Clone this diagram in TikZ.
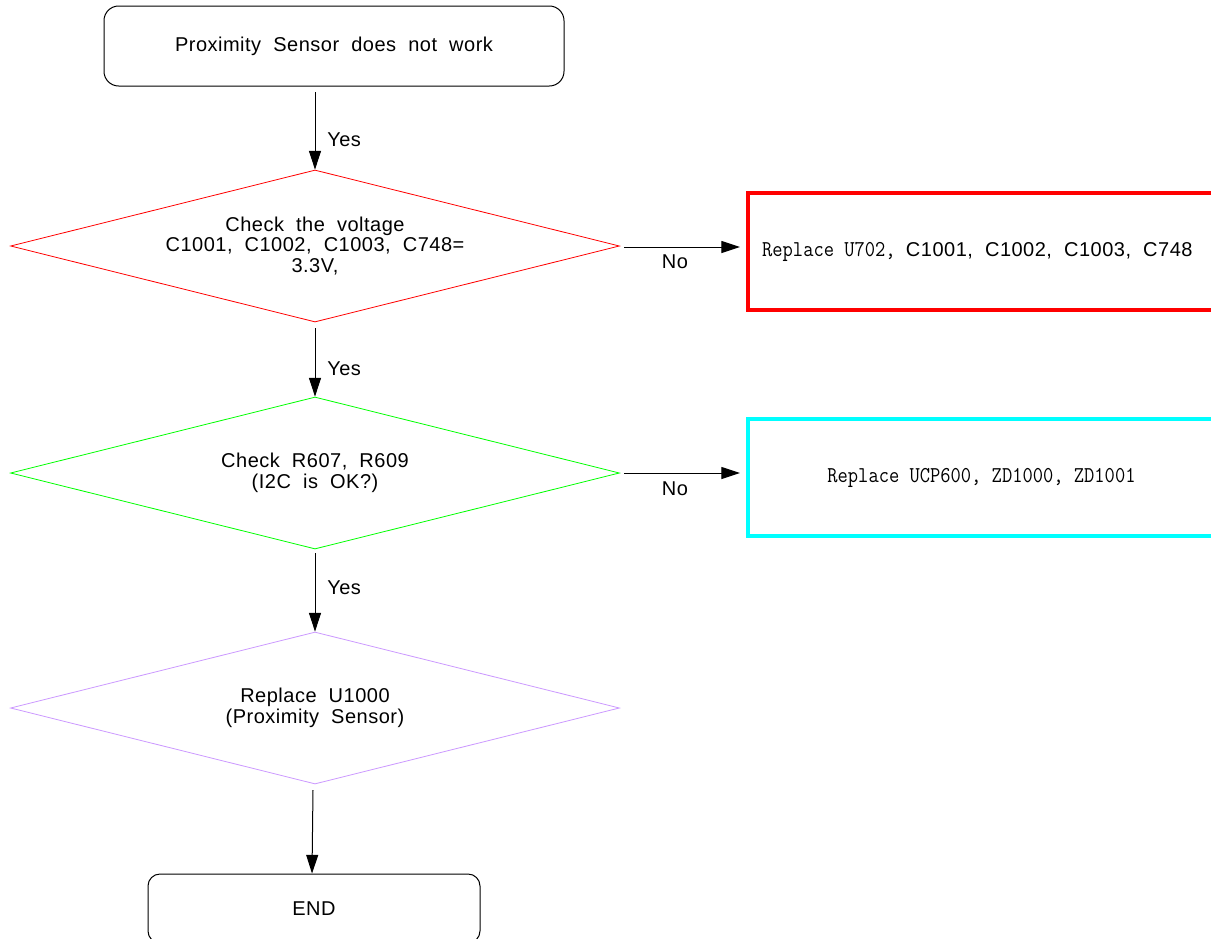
\documentclass[tikz,border=0pt]{standalone}
\usepackage{fontspec}
\setmainfont{Liberation Sans}[LetterSpace=2.5,WordSpace=2]
\setmonofont{Latin Modern Mono}[FakeStretch=0.88]
\usetikzlibrary{shapes.geometric,arrows.meta}
\definecolor{dred}{RGB}{255,0,0}
\definecolor{dgreen}{RGB}{0,255,0}
\definecolor{dpurple}{RGB}{204,153,255}
\definecolor{dcyan}{RGB}{0,255,255}
\tikzset{
  txt/.style={font=\fontsize{15pt}{15.5pt}\selectfont},
  monotxt/.style={font=\fontsize{17pt}{18pt}\selectfont\ttfamily},
  roundbox/.style={txt,draw=black,line width=0.75pt,rounded corners=11pt,inner sep=0pt},
  decision/.style={txt,diamond,aspect=4,draw,line width=0.6pt,inner sep=0pt,
    minimum width=456.75pt,minimum height=114pt,align=center},
  fixbox/.style={txt,rectangle,draw,line width=3pt,inner ysep=0pt,
    minimum width=350.25pt,minimum height=87.75pt},
  arr/.style={draw=black,line width=0.75pt,-{Triangle[length=14pt,width=9pt]}},
  lab/.style={txt,inner sep=0pt}
}
\begin{document}
\begin{tikzpicture}[x=0.75pt,y=-0.75pt]
\clip (0,0) rectangle (1211,939);
\fill[white] (0,0) rectangle (1211,939);

\node[roundbox,minimum width=345pt,minimum height=60pt] (start) at (334,46) {Proximity Sensor does not work};

\node[decision,draw=dred] (d1) at (315,246) {Check the voltage\\C1001, C1002, C1003, C748=\\3.3V,};
\node[decision,draw=dgreen] (d2) at (315,473) {Check R607, R609\\(I2C is OK?)};
\node[decision,draw=dpurple] (d3) at (315,708) {Replace U1000\\(Proximity Sensor)};

\node[fixbox,draw=dred,inner xsep=10.5pt] (r1) at (981.5,251.5)
  {\makebox[329pt][l]{{\fontsize{17pt}{18pt}\selectfont\ttfamily Replace U702,\ }C1001, C1002, C1003, C748}};
\node[fixbox,draw=dcyan] (r2) at (981.5,477.5)
  {{\fontsize{17pt}{18pt}\selectfont\ttfamily Replace UCP600,\ ZD1000,\ ZD1001}};

\node[roundbox,minimum width=249pt,minimum height=51.75pt,rounded corners=9pt] (end) at (314,908.5) {END};

\coordinate (a1s) at (315,92);
\coordinate (a2s) at (315,328);
\coordinate (a3s) at (315,553);
\coordinate (a4s) at (313,790);
\coordinate (n1s) at (624,247);
\coordinate (n2s) at (624,473);

\draw[arr] (a1s) -- (d1.north);
\draw[arr] (a2s) -- (d2.north);
\draw[arr] (a3s) -- (d3.north);
\draw[arr] (a4s) -- (end.north -| 312,0);
\draw[arr,shorten >=4.5pt] (n1s) -- (n1s -| r1.west);
\draw[arr,shorten >=4.5pt] (n2s) -- (n2s -| r2.west);

\node[lab,anchor=west] (y1) at (327,140) {Yes};
\node[lab,anchor=west] (y2) at (327,369) {Yes};
\node[lab,anchor=west] (y3) at (327,588) {Yes};
\node[lab] (no1) at (675,262) {No};
\node[lab] (no2) at (675,489) {No};
\end{tikzpicture}
\end{document}
